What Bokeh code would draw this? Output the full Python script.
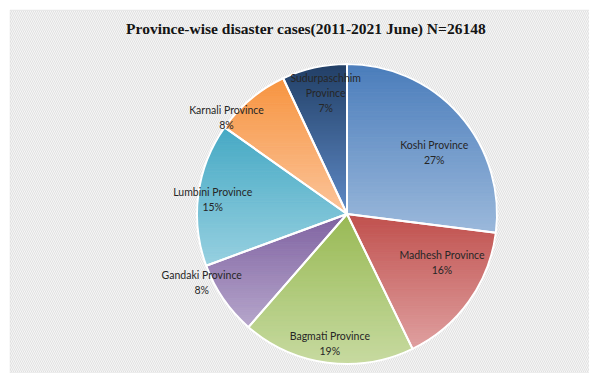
import numpy as np
from bokeh.plotting import figure
from bokeh.models import Label, BoxAnnotation, ColumnDataSource
from bokeh.core.properties import value
from bokeh.embed import file_html
from bokeh.resources import INLINE

# ---- data ----
provinces = ["Koshi Province", "Madhesh Province", "Bagmati Province", "Gandaki Province",
             "Lumbini Province", "Karnali Province", "Sudurpaschhim Province"]
cases = [7060, 4131, 4864, 2092, 4027, 2144, 1830]
title_text = "Province-wise disaster cases(2011-2021 June) N=26148"

# ---- style / layout ----
top_colors = ["#4a7dbb", "#c0504d", "#98b954", "#7f62a1", "#45a9c4", "#f79440", "#213f66"]
bot_colors = ["#9bb8db", "#dfa0a0", "#c7daa0", "#b6a6cb", "#97d0e0", "#fbc49a", "#5f8ac6"]
label_dist = [0.71, 0.71, 0.87, 1.07, 0.90, 1.03, 0.82]
label_nudge = [6.4, -8.7, 0.0, 9.4, -1.6, -11.3, 2.6]

W, H = 589, 373
cx, cy, R = 346.5, 159.5, 150.0

p = figure(width=W, height=H, x_range=(0, W), y_range=(0, H),
           output_backend="svg", toolbar_location=None, min_border=0)
p.axis.visible = False
p.grid.visible = False
p.outline_line_color = None
p.background_fill_color = "white"
p.border_fill_color = "white"

bg = BoxAnnotation(left=9.5, right=W + 5, bottom=-5, top=H - 9.5,
                   fill_color="#f6f6f6", fill_alpha=1,
                   hatch_pattern="\\", hatch_color="#e1e1e1", hatch_scale=4, hatch_weight=1,
                   line_color="#d4d4d4", line_width=1, level="underlay")
p.add_layout(bg)


def hex2rgb(h):
    h = h.lstrip("#")
    return np.array([int(h[i:i + 2], 16) for i in (0, 2, 4)], dtype=float)


def clip(poly, y0, keep_above):
    out = []
    n = len(poly)
    for i in range(n):
        P = poly[i]
        Q = poly[(i + 1) % n]
        inP = P[1] >= y0 if keep_above else P[1] <= y0
        inQ = Q[1] >= y0 if keep_above else Q[1] <= y0
        if inP:
            out.append(P)
        if inP != inQ:
            t = (y0 - P[1]) / (Q[1] - P[1])
            out.append((P[0] + t * (Q[0] - P[0]), y0))
    return out


total = float(sum(cases))
fracs = [c / total for c in cases]
cum = np.concatenate([[0.0], np.cumsum(fracs)])
starts = np.pi / 2 - 2 * np.pi * cum[:-1]
ends = np.pi / 2 - 2 * np.pi * cum[1:]

bx, by, bc = [], [], []
NB = 60
for i in range(len(cases)):
    angs = np.linspace(starts[i], ends[i], 120)
    poly = [(cx, cy)] + [(cx + R * np.cos(a), cy + R * np.sin(a)) for a in angs]
    ys = [pt[1] for pt in poly]
    ymax, ymin = max(ys), min(ys)
    c0, c1 = hex2rgb(top_colors[i]), hex2rgb(bot_colors[i])
    edges = np.linspace(ymax, ymin, NB + 1)
    for b in range(NB):
        hi, lo = edges[b], edges[b + 1]
        part = clip(clip(poly, lo, True), hi, False)
        if len(part) < 3:
            continue
        t = (b + 0.5) / NB
        c = c0 + (c1 - c0) * t
        col = "#%02x%02x%02x" % tuple(int(round(v)) for v in c)
        bx.append([pt[0] for pt in part])
        by.append([pt[1] for pt in part])
        bc.append(col)

p.patches(xs=bx, ys=by, fill_color=bc, line_color=bc, line_width=1)

p.wedge(x=cx, y=cy, radius=R, start_angle=starts, end_angle=ends, direction="clock",
        fill_color=None, line_color="white", line_width=2)

# labels
lx, ly, lt = [], [], []
for i in range(len(cases)):
    mid = (cum[i] + cum[i + 1]) / 2 * 360 + label_nudge[i]
    th = np.deg2rad(mid)
    d = label_dist[i] * R
    lx.append(cx + d * np.sin(th))
    ly.append(cy + d * np.cos(th))
    name = provinces[i]
    if len(name) > 18:
        name = name.replace(" ", "\n")
    lt.append("%s\n%.0f%%" % (name, fracs[i] * 100))

src = ColumnDataSource(dict(x=lx, y=ly, text=lt))
p.text(x="x", y="y", text="text", source=src, text_font=value("Lato"),
       text_font_size="10.5px", text_align="center", text_baseline="middle",
       text_color="#262626", text_line_height=1.25)

p.add_layout(Label(x=305.5, y=H - 27.5, text=title_text, text_font="Liberation Serif",
                   text_font_style="bold", text_font_size="15.5px", text_align="center",
                   text_baseline="middle", text_color="#141414"))

open("out.html", "w").write(file_html(p, INLINE))
